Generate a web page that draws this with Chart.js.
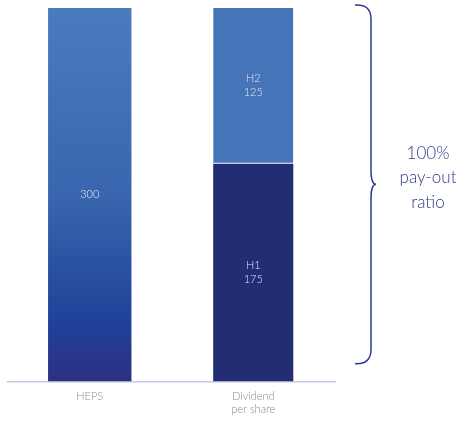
<!DOCTYPE html>
<html>
<head>
<meta charset="utf-8">
<script src="https://cdn.jsdelivr.net/npm/chart.js"></script>
<style>
  html, body { margin: 0; padding: 0; background: #fff; }
  #wrap { position: relative; width: 468px; height: 421px; }
</style>
</head>
<body>
<div id="wrap"><canvas id="myChart" width="468" height="421"></canvas></div>
<script>
// chart data
const categories = [['HEPS'], ['Dividend', 'per share']];
const hepsValues = [300, null];
const h1Values = [null, 175];
const h2Values = [null, 125];
const segmentNames = ['', 'H1', 'H2'];
const bracketText = ['100%', 'pay-out', 'ratio'];

const FONT = 'Lato, "Open Sans", sans-serif';

// vertical gradient for the HEPS bar
function hepsGradient(context) {
  const area = context.chart.chartArea;
  if (!area) return '#3a66b0';
  const g = context.chart.ctx.createLinearGradient(0, area.top, 0, area.bottom);
  g.addColorStop(0, '#4a7bbf');
  g.addColorStop(0.5, '#3966ae');
  g.addColorStop(0.85, '#1f4098');
  g.addColorStop(1, '#2c3180');
  return g;
}

// white labels inside the bars
const barLabels = {
  id: 'barLabels',
  afterDatasetsDraw(chart) {
    const ctx = chart.ctx;
    ctx.save();
    ctx.fillStyle = '#dfe5f2';
    ctx.font = '300 11px ' + FONT;
    ctx.textAlign = 'center';
    ctx.textBaseline = 'middle';
    chart.data.datasets.forEach((ds, di) => {
      const meta = chart.getDatasetMeta(di);
      meta.data.forEach((bar, i) => {
        const v = ds.data[i];
        if (v == null) return;
        const mid = (bar.y + bar.base) / 2;
        if (segmentNames[di]) {
          ctx.fillText(segmentNames[di], bar.x, mid - 7);
          ctx.fillText(String(v), bar.x, mid + 7);
        } else {
          ctx.fillText(String(v), bar.x, mid);
        }
      });
    });
    ctx.restore();
  }
};

// curly bracket and text at the right
const bracket = {
  id: 'bracket',
  afterDraw(chart) {
    const ctx = chart.ctx;
    const y = chart.scales.y;
    const top = y.getPixelForValue(300) - 3;
    const bottom = y.getPixelForValue(0) - 18;
    const mid = (top + bottom) / 2;
    const x0 = chart.chartArea.right + 20;
    const x1 = x0 + 16;
    const tip = x1 + 5;
    ctx.save();
    ctx.strokeStyle = '#2e3b86';
    ctx.lineWidth = 1.5;
    ctx.beginPath();
    ctx.moveTo(x0, top);
    ctx.quadraticCurveTo(x1, top - 1, x1, top + 14);
    ctx.lineTo(x1, mid - 14);
    ctx.quadraticCurveTo(x1, mid, tip, mid);
    ctx.quadraticCurveTo(x1, mid, x1, mid + 14);
    ctx.lineTo(x1, bottom - 14);
    ctx.quadraticCurveTo(x1, bottom + 1, x0, bottom);
    ctx.stroke();
    ctx.fillStyle = '#2e3b86';
    ctx.font = '300 17px ' + FONT;
    ctx.textAlign = 'center';
    ctx.textBaseline = 'middle';
    const cx = tip + 52;
    bracketText.forEach((t, i) => {
      ctx.fillText(t, cx, mid - 31 + i * 24.5);
    });
    ctx.restore();
  }
};

new Chart(document.getElementById('myChart'), {
  type: 'bar',
  data: {
    labels: categories,
    datasets: [
      { label: 'HEPS', data: hepsValues, backgroundColor: hepsGradient, barPercentage: 0.51, categoryPercentage: 1 },
      { label: 'H1', data: h1Values, backgroundColor: '#222d74', barPercentage: 0.49, categoryPercentage: 1 },
      { label: 'H2', data: h2Values, backgroundColor: '#4574b9', borderColor: '#ffffff', borderWidth: { bottom: 1 }, borderSkipped: false, barPercentage: 0.49, categoryPercentage: 1 }
    ]
  },
  options: {
    responsive: false,
    animation: false,
    layout: { padding: { left: 8, right: 133, top: 8, bottom: -3 } },
    plugins: { legend: { display: false }, tooltip: { enabled: false } },
    scales: {
      x: {
        stacked: true,
        grid: { display: false, drawTicks: false },
        border: { color: '#c8cae6', width: 1.5 },
        ticks: { color: '#8a8a8a', font: { family: FONT, size: 11, weight: '300' }, padding: 8 }
      },
      y: {
        stacked: true,
        min: 0,
        max: 300,
        display: false
      }
    }
  },
  plugins: [barLabels, bracket]
});
</script>
</body>
</html>
